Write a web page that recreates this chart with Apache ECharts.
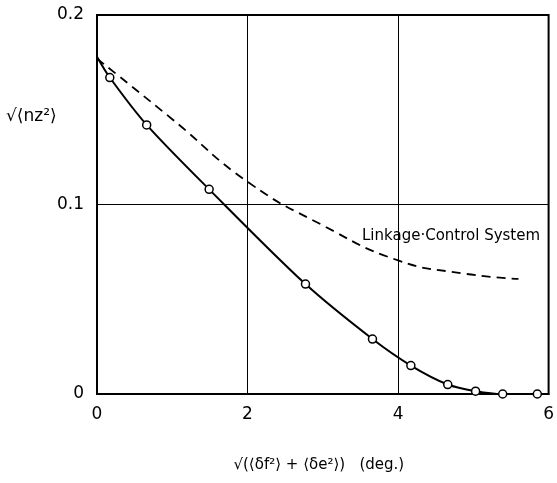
<!DOCTYPE html>
<html>
<head>
<meta charset="utf-8">
<script src="https://cdn.jsdelivr.net/npm/echarts@6/dist/echarts.min.js"></script>
<style>
  html, body { margin: 0; padding: 0; background: #fff; }
  #chart { width: 557px; height: 483px; }
</style>
</head>
<body>
<div id="chart"></div>
<script>
// solid curve (with circles), first point has no marker
var solidX = [0, 0.17, 0.66, 1.49, 2.77, 3.66, 4.17, 4.66, 5.03, 5.39, 5.85];
var solidY = [0.178, 0.167, 0.142, 0.108, 0.058, 0.029, 0.015, 0.005, 0.0015, 0, 0];

// dashed curve: Linkage-Control System
var dashX = [0, 1.0, 2.0, 3.0, 4.0, 4.85, 5.6];
var dashY = [0.177, 0.145, 0.112, 0.089, 0.0705, 0.0637, 0.0607];

var xTicks = [0, 2, 4, 6];
var yTicks = [0, 0.1, 0.2];

var fontFam = 'DejaVu Sans';

var chart = echarts.init(document.getElementById('chart'));

var solidData = solidX.map(function (x, i) {
  var item = { value: [x, solidY[i]] };
  if (i === 0) item.symbol = 'none';
  return item;
});
var dashData = dashX.map(function (x, i) { return [x, dashY[i]]; });

var option = {
  backgroundColor: '#ffffff',
  animation: false,
  grid: {
    left: 97, right: 4, top: 15, bottom: 89,
    show: true,
    borderColor: '#000',
    borderWidth: 2
  },
  xAxis: {
    type: 'value',
    min: 0, max: 6, interval: 2,
    axisLine: { show: true, lineStyle: { color: '#000', width: 2 } },
    axisTick: { show: false },
    splitLine: { show: true, lineStyle: { color: '#000', width: 1 } },
    axisLabel: {
      color: '#000', fontSize: 17, fontFamily: fontFam, margin: 12,
      formatter: function (v) { return xTicks.indexOf(v) >= 0 ? String(v) : ''; }
    },
    name: '√(⟨δf²⟩ + ⟨δe²⟩)   (deg.)',
    nameLocation: 'middle',
    nameGap: 64,
    nameTextStyle: { color: '#000', fontSize: 15, fontFamily: fontFam, padding: [0, 8, 0, 0] }
  },
  yAxis: {
    type: 'value',
    min: 0, max: 0.2, interval: 0.1,
    axisLine: { show: true, lineStyle: { color: '#000', width: 2 } },
    axisTick: { show: false },
    splitLine: { show: true, lineStyle: { color: '#000', width: 1 } },
    axisLabel: {
      color: '#000', fontSize: 17, fontFamily: fontFam, margin: 13,
      formatter: function (v) {
        var t = yTicks.find(function (k) { return Math.abs(k - v) < 1e-9; });
        return t === undefined ? '' : (t === 0 ? '0' : t.toFixed(1));
      }
    }
  },
  graphic: [
    {
      type: 'text', left: 6, top: 108,
      style: { text: '√⟨nz²⟩', fill: '#000', fontSize: 17, fontFamily: fontFam }
    },
    {
      type: 'text', left: 362, top: 229,
      style: { text: 'Linkage·Control System', fill: '#000', fontSize: 15, fontFamily: 'Liberation Sans Narrow, ' + fontFam }
    }
  ],
  series: [
    {
      type: 'line',
      data: solidData,
      smooth: 0.3,
      symbol: 'circle',
      symbolSize: 8,
      showAllSymbol: true,
      itemStyle: { color: '#fff', borderColor: '#000', borderWidth: 1.5 },
      lineStyle: { color: '#000', width: 2 },
      z: 3
    },
    {
      type: 'line',
      data: dashData,
      smooth: 0.5,
      symbol: 'none',
      lineStyle: { color: '#000', width: 1.8, type: [9, 6] },
      z: 2
    }
  ]
};

chart.setOption(option);
</script>
</body>
</html>
